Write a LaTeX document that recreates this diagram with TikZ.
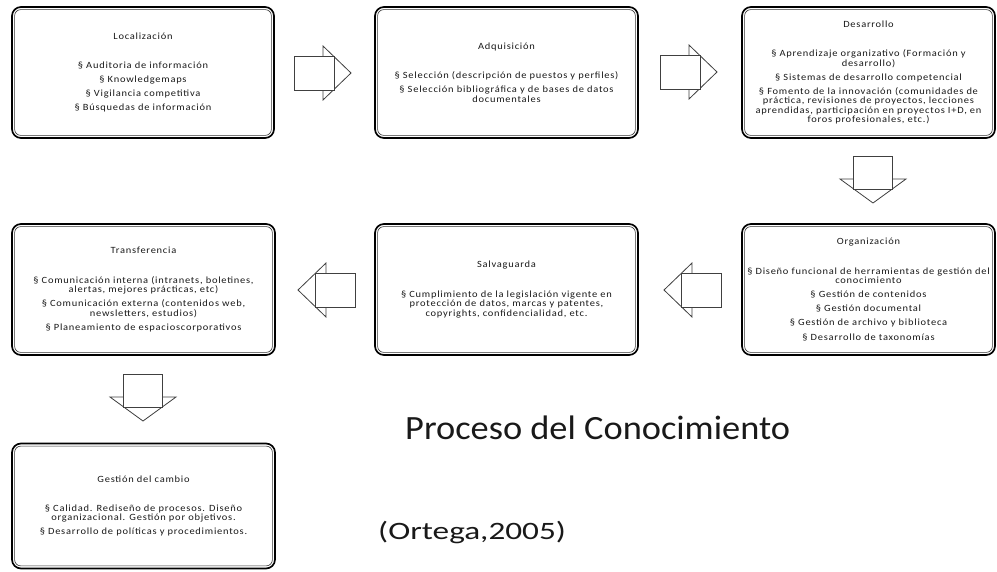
\documentclass[tikz,border=0pt]{standalone}
\usepackage{fontspec}
\setmainfont{Carlito}
\newfontfamily\boxfont[FakeStretch=1.1,LetterSpace=8]{Carlito}
\newfontfamily\titlefont[FakeStretch=1.07]{Carlito}
\newfontfamily\citefont[FakeStretch=1.33]{Carlito}
\newcommand{\ttlgap}{\\[20pt]}
\newcommand{\pargap}{\\[4.7pt]}
\tikzset{
  kbox/.style={draw=black, line width=1.7pt, rounded corners=9pt, inner sep=0pt,
    align=center, font=\boxfont\fontsize{9.5}{9.4}\selectfont, text=black!90,
    minimum height=131pt},
  innerline/.style={draw=black!80, line width=0.6pt, rounded corners=6pt},
  arrline/.style={draw=black!75, line width=0.8pt, fill=white},
  arrR/.pic={\draw[arrline] (-28,-27) -- (0,0) -- (-28,27) -- cycle;
             \draw[arrline] (-57,-17) rectangle (-17,17);},
  arrL/.pic={\draw[arrline] (28,-27) -- (0,0) -- (28,27) -- cycle;
             \draw[arrline] (57,-17) rectangle (17,17);},
  arrD/.pic={\draw[arrline] (-33,-24) -- (0,0) -- (33,-24) -- cycle;
             \draw[arrline] (-19.5,-47) rectangle (19.5,-14);}
}
\begin{document}
\begin{tikzpicture}[x=1pt,y=-1pt]
\useasboundingbox (0,0) rectangle (997,571);

\node[kbox, minimum width=262pt] (loc) at (143,72.5)
  {Localización\ttlgap
   § Auditoria de información\pargap
   § Knowledgemaps\pargap
   § Vigilancia competitiva\pargap
   § Búsquedas de información};
\node[kbox, minimum width=263pt] (adq) at (506.5,72.5)
  {Adquisición\ttlgap
   § Selección (descripción de puestos y perfiles)\pargap
   § Selección bibliográfica y de bases de datos\\
   documentales};
\node[kbox, minimum width=253pt] (des) at (868.5,72.5)
  {Desarrollo\ttlgap
   § Aprendizaje organizativo (Formación y\\
   desarrollo)\pargap
   § Sistemas de desarrollo competencial\pargap
   § Fomento de la innovación (comunidades de\\
   práctica, revisiones de proyectos, lecciones\\
   aprendidas, participación en proyectos I+D, en\\
   foros profesionales, etc.)};
\node[kbox, minimum width=263pt] (tra) at (143.5,289.5)
  {Transferencia\ttlgap
   § Comunicación interna (intranets, boletines,\\
   alertas, mejores prácticas, etc)\pargap
   § Comunicación externa (contenidos web,\\
   newsletters, estudios)\pargap
   § Planeamiento de espacioscorporativos};
\node[kbox, minimum width=263pt] (sal) at (506.5,289.5)
  {Salvaguarda\ttlgap
   § Cumplimiento de la legislación vigente en\\
   protección de datos, marcas y patentes,\\
   copyrights, confidencialidad, etc.};
\node[kbox, minimum width=253pt] (org) at (868.5,289.5)
  {Organización\ttlgap
   § Diseño funcional de herramientas de gestión del\\
   conocimiento\pargap
   § Gestión de contenidos\pargap
   § Gestión documental\pargap
   § Gestión de archivo y biblioteca\pargap
   § Desarrollo de taxonomías};
\node[kbox, minimum width=263pt, minimum height=125pt] (ges) at (143.5,506)
  {Gestión del cambio\ttlgap
   § Calidad. Rediseño de procesos. Diseño\\
   organizacional. Gestión por objetivos.\pargap
   § Desarrollo de políticas y procedimientos.};

\foreach \n in {loc,adq,des,tra,sal,org,ges}
  \draw[innerline] ([shift={(3.5,3.5)}]\n.north west) rectangle ([shift={(-3.5,-3.5)}]\n.south east);

\pic at (351,73) {arrR};
\pic at (717,72) {arrR};
\pic at (873,203) {arrD};
\pic at (664,290) {arrL};
\pic at (298,290) {arrL};
\pic at (143,421) {arrD};

\node[anchor=base west, inner sep=0pt, font=\titlefont\fontsize{34}{40}\selectfont, text=black!90] (title) at (405,439) {Proceso del Conocimiento};
\node[anchor=base west, inner sep=0pt, font=\citefont\fontsize{25}{30}\selectfont, text=black!90] (cite) at (378,539) {(Ortega,2005)};
\end{tikzpicture}
\end{document}
